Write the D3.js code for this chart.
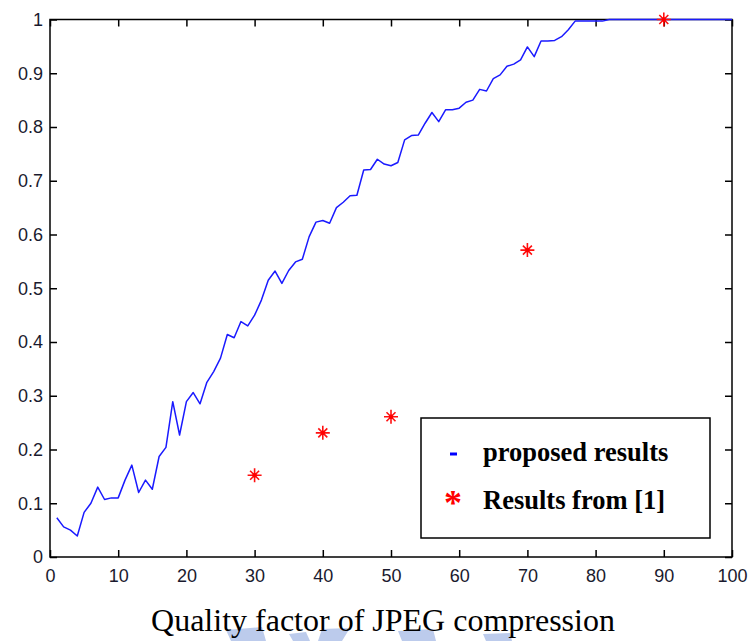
<!DOCTYPE html>
<html><head><meta charset="utf-8">
<script src="https://cdn.jsdelivr.net/npm/d3@7"></script>
<style>body{margin:0;background:#fff;} svg{display:block;}</style>
</head><body>
<svg id="chart" width="752" height="641"></svg>
<script>
const qualityFactors = d3.range(1, 101);
const proposedValues = [
 0.073,0.056,0.050,0.039,0.083,0.100,0.130,0.107,0.110,0.110,
 0.143,0.171,0.120,0.143,0.126,0.187,0.204,0.289,0.227,0.289,
 0.306,0.285,0.325,0.345,0.370,0.414,0.408,0.438,0.430,0.450,
 0.478,0.515,0.532,0.509,0.533,0.549,0.554,0.596,0.623,0.626,
 0.621,0.650,0.660,0.672,0.673,0.720,0.721,0.740,0.731,0.728,
 0.734,0.776,0.784,0.785,0.807,0.827,0.810,0.832,0.832,0.835,
 0.846,0.850,0.870,0.867,0.890,0.897,0.913,0.917,0.925,0.949,
 0.931,0.960,0.960,0.961,0.968,0.981,0.997,0.997,0.997,0.997,
 0.997,1,1,1,1,1,1,1,1,1,
 1,1,1,1,1,1,1,1,1,1];
const refQuality = [30, 40, 50, 70, 90];
const refValues = [0.152, 0.231, 0.261, 0.571, 1.0];
const xTicks = d3.range(0, 101, 10);
const yTicks = [0,0.1,0.2,0.3,0.4,0.5,0.6,0.7,0.8,0.9,1];
const legendLabels = ["proposed results", "Results from [1]"];
const xLabel = "Quality factor of JPEG compression";

const svg = d3.select("#chart");
const L = 50, R = 732, T = 19.5, B = 557;
const x = d3.scaleLinear().domain([0, 100]).range([L, R]);
const y = d3.scaleLinear().domain([0, 1]).range([B, T]);

// faint watermark fragments at the bottom edge
const wm = svg.append("g").attr("fill", "#bccbec");
[
  [[226,630],[262,627],[266,641],[231,641]],
  [[289,634],[306,632],[310,641],[293,641]],
  [[322,629],[350,628],[342,641],[318,641]],
  [[398,631],[433,629],[436,641],[402,641]],
  [[483,634],[510,633],[512,641],[486,641]]
].forEach(p => wm.append("polygon").attr("points", p.map(q => q.join(",")).join(" ")));

const axisStyle = g => {
  g.select(".domain").remove();
  g.selectAll(".tick line").attr("stroke", "#000").attr("stroke-width", 1.5);
  g.selectAll(".tick text").attr("fill", "#1a1a2e")
    .attr("font-family", "Liberation Sans, Arial, sans-serif").attr("font-size", 18);
};

svg.append("g").attr("transform", `translate(0,${B})`)
  .call(d3.axisBottom(x).tickValues(xTicks).tickSizeInner(-7).tickPadding(12).tickFormat(d3.format("d")))
  .call(axisStyle);
svg.append("g").attr("transform", `translate(0,${T})`)
  .call(d3.axisTop(x).tickValues(xTicks).tickSizeInner(-7).tickFormat(""))
  .call(axisStyle);
svg.append("g").attr("transform", `translate(${L},0)`)
  .call(d3.axisLeft(y).tickValues(yTicks).tickSizeInner(-7).tickPadding(7).tickFormat(d => d === 0 || d === 1 ? d3.format("d")(d) : d3.format(".1f")(d)))
  .call(axisStyle);
svg.append("g").attr("transform", `translate(${R},0)`)
  .call(d3.axisRight(y).tickValues(yTicks).tickSizeInner(-7).tickFormat(""))
  .call(axisStyle);

svg.append("rect").attr("x", L).attr("y", T).attr("width", R - L).attr("height", B - T)
  .attr("fill", "none").attr("stroke", "#000").attr("stroke-width", 1.5);

const line = d3.line().x((d, i) => x(qualityFactors[i])).y(d => y(d));
svg.append("path").datum(proposedValues).attr("d", line)
  .attr("fill", "none").attr("stroke", "#1a1aff").attr("stroke-width", 1.5).attr("stroke-linejoin", "round");

const starPath = "M-7,0H7M0,-7V7M-4.5,-4.5L4.5,4.5M-4.5,4.5L4.5,-4.5";
svg.append("g").selectAll("g").data(refValues).join("g")
  .attr("transform", (d, i) => `translate(${x(refQuality[i])},${y(d)})`)
  .each(function() {
    const g = d3.select(this);
    g.append("path").attr("d", starPath).attr("stroke", "#ff1010").attr("stroke-width", 1.6).attr("fill", "none");
    g.append("circle").attr("r", 2.2).attr("fill", "#ff0000");
  });

const lg = svg.append("g");
lg.append("rect").attr("x", 421).attr("y", 418).attr("width", 289).attr("height", 120)
  .attr("fill", "#fff").attr("stroke", "#000").attr("stroke-width", 1.5);
lg.append("line").attr("x1", 450).attr("x2", 457).attr("y1", 454).attr("y2", 454)
  .attr("stroke", "#0000ff").attr("stroke-width", 3);
lg.append("text").attr("x", 453).attr("y", 515).attr("text-anchor", "middle")
  .attr("font-family", "Liberation Serif, Times New Roman, serif").attr("font-weight", "bold")
  .attr("font-size", 36).attr("fill", "#ff0000").text("*");
lg.selectAll("text.lab").data(legendLabels).join("text").attr("class", "lab")
  .attr("x", 483).attr("y", (d, i) => 461 + i * 48)
  .attr("font-family", "Liberation Serif, Times New Roman, serif").attr("font-weight", "bold")
  .attr("font-size", 26.5).attr("fill", "#000").text(d => d);

svg.append("text").attr("x", 383).attr("y", 631).attr("text-anchor", "middle")
  .attr("font-family", "Liberation Serif, Times New Roman, serif").attr("font-size", 32)
  .attr("fill", "#000").text(xLabel);
</script>
</body></html>
